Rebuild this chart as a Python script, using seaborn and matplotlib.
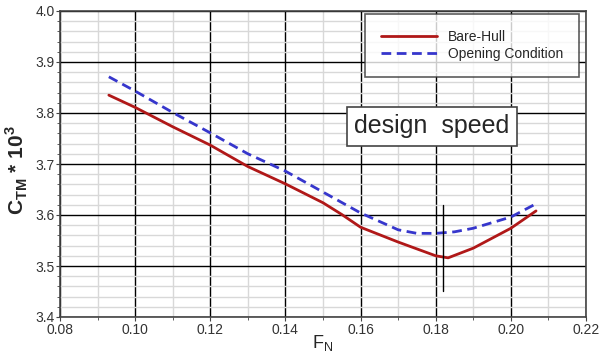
import numpy as np
import pandas as pd
import matplotlib
matplotlib.use("Agg")
import matplotlib.pyplot as plt
import seaborn as sns
from matplotlib.ticker import MultipleLocator

# Data
fn_bare = [0.093, 0.100, 0.110, 0.120, 0.130, 0.140, 0.150, 0.155, 0.160, 0.170, 0.180, 0.1833, 0.190, 0.200, 0.2067]
ct_bare = [3.835, 3.811, 3.773, 3.737, 3.695, 3.661, 3.624, 3.601, 3.576, 3.547, 3.520, 3.516, 3.535, 3.574, 3.608]

fn_open = [0.093, 0.100, 0.110, 0.120, 0.130, 0.140, 0.150, 0.160, 0.170, 0.175, 0.180, 0.185, 0.190, 0.200, 0.2067]
ct_open = [3.871, 3.843, 3.801, 3.761, 3.720, 3.686, 3.645, 3.604, 3.571, 3.564, 3.564, 3.567, 3.574, 3.596, 3.622]

series_names = ["Bare-Hull", "Opening Condition"]
design_speed = 0.182
design_line_y = [3.451, 3.620]

xlim = (0.08, 0.22)
ylim = (3.4, 4.0)

df = pd.concat([
    pd.DataFrame({"Fn": fn_bare, "Ct": ct_bare, "series": series_names[0]}),
    pd.DataFrame({"Fn": fn_open, "Ct": ct_open, "series": series_names[1]}),
])

sns.set_style("white")
plt.rcParams['font.family'] = ['Liberation Sans', 'DejaVu Sans']

fig = plt.figure(figsize=(6.05, 3.53), dpi=100)
ax = fig.add_axes([60/605, 36/353, 526/605, 306/353])

palette = {series_names[0]: "#b01818", series_names[1]: "#3636cc"}
sns.lineplot(data=df, x="Fn", y="Ct", hue="series", style="series",
             palette=palette, dashes={series_names[0]: "", series_names[1]: (3.5, 2)},
             linewidth=2, ax=ax, sort=False, zorder=5)

ax.plot([design_speed, design_speed], design_line_y, color="black", lw=1, zorder=6)

ax.set_xlim(*xlim)
ax.set_ylim(*ylim)
ax.xaxis.set_major_locator(MultipleLocator(0.02))
ax.xaxis.set_minor_locator(MultipleLocator(0.01))
ax.yaxis.set_major_locator(MultipleLocator(0.1))
ax.yaxis.set_minor_locator(MultipleLocator(0.02))
ax.set_xticks(np.arange(0.08, 0.2201, 0.02))
ax.set_xticklabels([f"{v:.2f}" for v in np.arange(0.08, 0.2201, 0.02)])
ax.set_yticks(np.arange(3.4, 4.001, 0.1))
ax.set_yticklabels([f"{v:.1f}" for v in np.arange(3.4, 4.001, 0.1)])

ax.grid(which="minor", color="#d8d8d8", lw=1.0, zorder=0)
ax.grid(which="major", color="black", lw=1.0, zorder=1)
ax.set_axisbelow(True)
for s in ax.spines.values():
    s.set_color("#444444")
    s.set_linewidth(1.2)

ax.tick_params(axis="both", which="major", labelsize=10, labelcolor="#333333",
               length=3, direction="out", color="#444444", left=True, bottom=True, pad=1)
ax.tick_params(axis="both", which="minor", length=2, direction="out", color="#444444",
               left=True, bottom=True)

ax.set_xlabel("F$_\\mathregular{N}$", fontsize=13)
ax.xaxis.set_label_coords(0.5, -0.052)
ax.set_ylabel("C$_\\mathregular{TM}$ * 10$^\\mathregular{3}$", fontsize=15, fontweight="bold")
ax.yaxis.set_label_coords(-0.057, 0.48)

leg = ax.legend(loc="upper right", bbox_to_anchor=(0.987, 0.99), frameon=True, fancybox=False,
                fontsize=10, handlelength=4.0, handletextpad=0.8, borderpad=1.15, labelspacing=0.2,
                borderaxespad=0, edgecolor="#333333", title=None)
leg.get_frame().set_linewidth(1.2)
leg.set_zorder(10)

ax.text(0.179, 3.774, "design  speed", fontsize=18, ha="center", va="center", zorder=10,
        bbox=dict(boxstyle="square,pad=0.3", facecolor="white", edgecolor="#444444", lw=1.2))

fig.savefig("out.png", dpi=100, facecolor="white")
